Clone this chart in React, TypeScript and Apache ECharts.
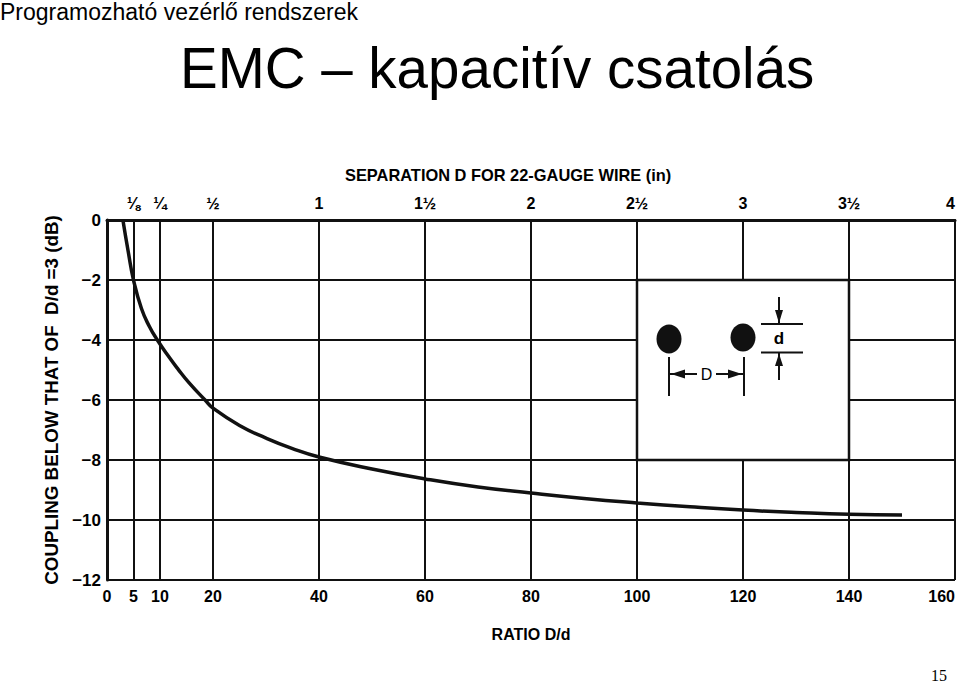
import React, { useEffect, useRef } from 'react';
import * as echarts from 'echarts';

// ---- data ----
const bottomTickValues = [0, 5, 10, 20, 40, 60, 80, 100, 120, 140, 160];
const topTickValues = [5, 10, 20, 40, 60, 80, 100, 120, 140, 160];
const topTickLabels = ['⅛', '¼', '½', '1', '1½', '2', '2½', '3', '3½', '4'];
const ratioValues = [3, 4, 5, 6.5, 8, 9.5, 11.5, 13.4, 15.5, 18.5, 20, 25, 30, 35, 40, 50, 60, 70, 80, 90, 100, 110, 120, 130, 140, 150];
const couplingDb = [0, -1.05, -2, -2.95, -3.55, -4, -4.52, -4.97, -5.43, -6, -6.27, -6.85, -7.27, -7.62, -7.9, -8.3, -8.63, -8.9, -9.1, -9.28, -9.43, -9.56, -9.67, -9.75, -9.81, -9.83];
const insetRatioRange = [100, 140];
const insetDbRange = [-2, -8];

const slideHeader = 'Programozható vezérlő rendszerek';
const slideTitle = 'EMC – kapacitív csatolás';
const chartTitle = 'SEPARATION D FOR 22-GAUGE WIRE (in)';
const yName = 'COUPLING BELOW THAT OF  D/d =3 (dB)';
const xName = 'RATIO D/d';
const pageNumber = '15';

const SANS = "'Liberation Sans', Arial, sans-serif";
const PLAIN = "'Liberation Sans', Arial, sans-serif";
const INK = '#111';

export default function App() {
  const ref = useRef<HTMLDivElement>(null);

  useEffect(() => {
    if (!ref.current) return;
    const chart = echarts.init(ref.current, undefined, { renderer: 'svg' });
    const option: any = {
      animation: false,
      backgroundColor: '#fff',
      title: [
        { text: slideHeader, left: 0, top: 0, padding: 0, textStyle: { fontFamily: PLAIN, fontSize: 23, fontWeight: 'normal', color: '#000' } },
        { text: slideTitle, left: 180, top: 40, padding: 0, textStyle: { fontFamily: PLAIN, fontSize: 56.5, fontWeight: 'normal', color: '#000' } },
        { text: chartTitle, left: 345, top: 167, padding: 0, textStyle: { fontFamily: SANS, fontSize: 16.4, fontWeight: 'bold', color: '#000' } },
        { text: pageNumber, left: 931, top: 667, padding: 0, textStyle: { fontFamily: "'Liberation Serif', 'DejaVu Serif', serif", fontSize: 16, fontWeight: 'normal', color: '#000' } },
      ],
      grid: { left: 107, right: 5, top: 220, bottom: 104, outerBoundsMode: 'none', containLabel: false },
      xAxis: [
        {
          type: 'value', min: 0, max: 160, position: 'bottom',
          name: xName, nameLocation: 'middle', nameGap: 46,
          nameTextStyle: { fontFamily: SANS, fontSize: 16, fontWeight: 'bold', color: '#000' },
          axisLine: { show: true, lineStyle: { color: INK, width: 3 } },
          axisTick: { show: false, customValues: bottomTickValues },
          axisLabel: { customValues: bottomTickValues, alignMaxLabel: 'right', margin: 8, fontFamily: SANS, fontSize: 16, fontWeight: 'bold', color: '#000' },
          splitLine: { show: true, lineStyle: { color: INK, width: 2 } },
        },
        {
          type: 'value', min: 0, max: 160, position: 'top',
          axisLine: { show: true, lineStyle: { color: INK, width: 2 } },
          axisTick: { show: false, customValues: topTickValues },
          axisLabel: {
            customValues: topTickValues, alignMaxLabel: 'right', margin: 9, fontFamily: SANS, fontSize: 16, fontWeight: 'bold', color: '#000',
            formatter: (v: number) => topTickLabels[topTickValues.indexOf(v)] ?? '',
          },
          splitLine: { show: false },
        },
      ],
      yAxis: {
        type: 'value', min: -12, max: 0, interval: 2,
        name: yName, nameLocation: 'middle', nameGap: 42, nameRotate: 90,
        nameTextStyle: { fontFamily: SANS, fontSize: 18.8, fontWeight: 'bold', color: '#000' },
        axisLine: { show: true, lineStyle: { color: INK, width: 3 } },
        axisTick: { show: false },
        axisLabel: { margin: 6, fontFamily: SANS, fontSize: 17, fontWeight: 'bold', color: '#000', formatter: (v: number) => (v < 0 ? '−' + Math.abs(v) : String(v)) },
        splitLine: { show: true, lineStyle: { color: INK, width: 2 } },
      },
      series: [
        {
          type: 'line',
          data: ratioValues.map((x, i) => [x, couplingDb[i]]),
          showSymbol: false,
          smooth: 0.5,
          lineStyle: { color: INK, width: 3.5 },
          z: 3,
          markArea: {
            silent: true,
            itemStyle: { color: '#fff', borderColor: INK, borderWidth: 2.5 },
            data: [[{ xAxis: insetRatioRange[0], yAxis: insetDbRange[0] }, { xAxis: insetRatioRange[1], yAxis: insetDbRange[1] }]],
          },
        },
      ],
    };
    chart.setOption(option);

    // inset diagram anchored to the library's coordinates
    const tl = chart.convertToPixel({ xAxisIndex: 0, yAxisIndex: 0 }, [insetRatioRange[0], insetDbRange[0]]) as number[];
    const ox = tl[0];
    const oy = tl[1];
    const P = (dx: number, dy: number) => [ox + dx, oy + dy];
    const st = { stroke: INK, lineWidth: 2 };
    const graphics: any[] = [
      { type: 'ellipse', shape: { cx: ox + 32, cy: oy + 59, rx: 12.5, ry: 14.5 }, style: { fill: INK }, z: 10 },
      { type: 'ellipse', shape: { cx: ox + 106, cy: oy + 57.5, rx: 12.5, ry: 14 }, style: { fill: INK }, z: 10 },
      // D dimension
      { type: 'line', shape: { x1: ox + 32, y1: oy + 77, x2: ox + 32, y2: oy + 116 }, style: st, z: 10 },
      { type: 'line', shape: { x1: ox + 107, y1: oy + 77, x2: ox + 107, y2: oy + 116 }, style: st, z: 10 },
      { type: 'line', shape: { x1: ox + 32, y1: oy + 94, x2: ox + 60, y2: oy + 94 }, style: st, z: 10 },
      { type: 'line', shape: { x1: ox + 79, y1: oy + 94, x2: ox + 107, y2: oy + 94 }, style: st, z: 10 },
      { type: 'polygon', shape: { points: [P(34, 94), P(48, 89.5), P(48, 98.5)] }, style: { fill: INK }, z: 10 },
      { type: 'polygon', shape: { points: [P(105, 94), P(91, 89.5), P(91, 98.5)] }, style: { fill: INK }, z: 10 },
      { type: 'text', x: ox + 69.5, y: oy + 94, style: { text: 'D', fontFamily: SANS, fontSize: 16, fill: '#000', align: 'center', verticalAlign: 'middle' }, z: 10 },
      // d dimension
      { type: 'line', shape: { x1: ox + 124, y1: oy + 44, x2: ox + 166, y2: oy + 44 }, style: st, z: 10 },
      { type: 'line', shape: { x1: ox + 124, y1: oy + 72.5, x2: ox + 166, y2: oy + 72.5 }, style: st, z: 10 },
      { type: 'line', shape: { x1: ox + 142, y1: oy + 17, x2: ox + 142, y2: oy + 43 }, style: st, z: 10 },
      { type: 'line', shape: { x1: ox + 142, y1: oy + 73, x2: ox + 142, y2: oy + 100 }, style: st, z: 10 },
      { type: 'polygon', shape: { points: [P(142, 43), P(138, 30), P(146, 30)] }, style: { fill: INK }, z: 10 },
      { type: 'polygon', shape: { points: [P(142, 73.5), P(138, 86), P(146, 86)] }, style: { fill: INK }, z: 10 },
      { type: 'text', x: ox + 142, y: oy + 58, style: { text: 'd', fontFamily: SANS, fontSize: 17, fontWeight: 'bold', fill: '#000', align: 'center', verticalAlign: 'middle' }, z: 10 },
    ];
    chart.setOption({ graphic: graphics });

    return () => chart.dispose();
  }, []);

  return <div ref={ref} style={{ position: 'fixed', left: 0, top: 0, width: 960, height: 684 }} />;
}
